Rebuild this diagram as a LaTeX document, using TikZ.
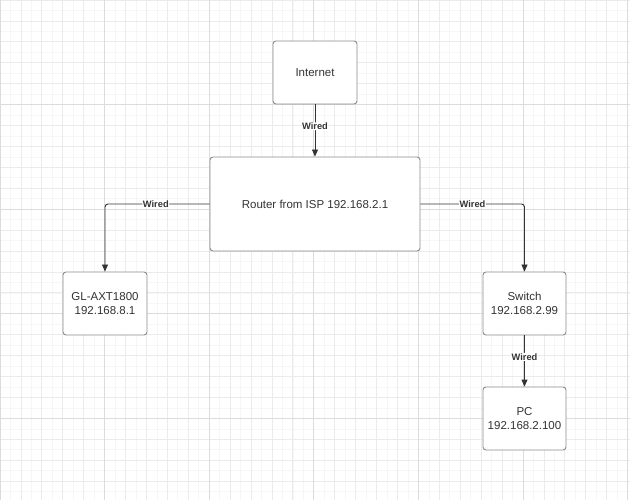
\documentclass[tikz,border=0pt]{standalone}
\usepackage{fontspec}
\setmainfont{Liberation Sans}
\usetikzlibrary{arrows.meta}
\definecolor{gsub}{HTML}{F6F6F6}
\definecolor{gmin}{HTML}{EBEBEB}
\definecolor{gmaj}{HTML}{DCDCDC}
\definecolor{ink}{HTML}{333333}
\definecolor{edge}{HTML}{8C8C8C}
\tikzset{
  box/.style={draw=edge, fill=white, line width=0.9pt, rounded corners=3pt, align=center, inner sep=0pt, text=ink, font=\fontsize{11.5}{14}\selectfont},
  conn/.style={draw=ink, line width=0.9pt, -{Triangle[width=6pt,length=7pt]}, rounded corners=3pt},
  lbl/.style={fill=white, inner sep=0.5pt, text=ink, font=\bfseries\fontsize{9.3}{11}\selectfont}
}
\begin{document}
\begin{tikzpicture}[x=1pt,y=-1pt]
\useasboundingbox (0,0) rectangle (630,500);
\fill[white] (0,0) rectangle (630,500);
% grid
\foreach \i in {0,...,60}{
  \draw[gsub, line width=0.7pt] ({\i*10.46},0) -- ({\i*10.46},500);
}
\foreach \i in {0,...,48}{
  \draw[gsub, line width=0.7pt] (0,{\i*10.46}) -- (630,{\i*10.46});
}
\foreach \i in {0,...,30}{
  \draw[gmin, line width=0.8pt] ({\i*20.92},0) -- ({\i*20.92},500);
}
\foreach \i in {0,...,24}{
  \draw[gmin, line width=0.8pt] (0,{\i*20.92}) -- (630,{\i*20.92});
}
\foreach \i in {0,...,6}{
  \draw[gmaj, line width=1pt] ({\i*104.6},0) -- ({\i*104.6},500);
}
\foreach \i in {0,...,4}{
  \draw[gmaj, line width=1pt] (0,{\i*104.6}) -- (630,{\i*104.6});
}
% nodes
\node[box, minimum width=84pt, minimum height=63pt] (inet) at (315,72.5) {Internet};
\node[box, minimum width=210pt, minimum height=94pt] (router) at (315,204) {Router from ISP 192.168.2.1};
\node[box, minimum width=84pt, minimum height=63pt] (gl) at (105,303.5) {GL-AXT1800\\192.168.8.1};
\node[box, minimum width=83pt, minimum height=63pt] (sw) at (524.5,303.5) {Switch\\192.168.2.99};
\node[box, minimum width=83pt, minimum height=63pt] (pc) at (524.5,418.5) {PC\\192.168.2.100};
% connectors
\draw[conn] (inet) -- node[lbl, pos=0.42] {Wired} (router);
\draw[conn] (router.west) -| node[lbl, pos=0.257] {Wired} (gl.north);
\draw[conn] (router.east) -| node[lbl, pos=0.25] {Wired} (sw.north);
\draw[conn] (sw) -- node[lbl, pos=0.42] {Wired} (pc);
\end{tikzpicture}
\end{document}
